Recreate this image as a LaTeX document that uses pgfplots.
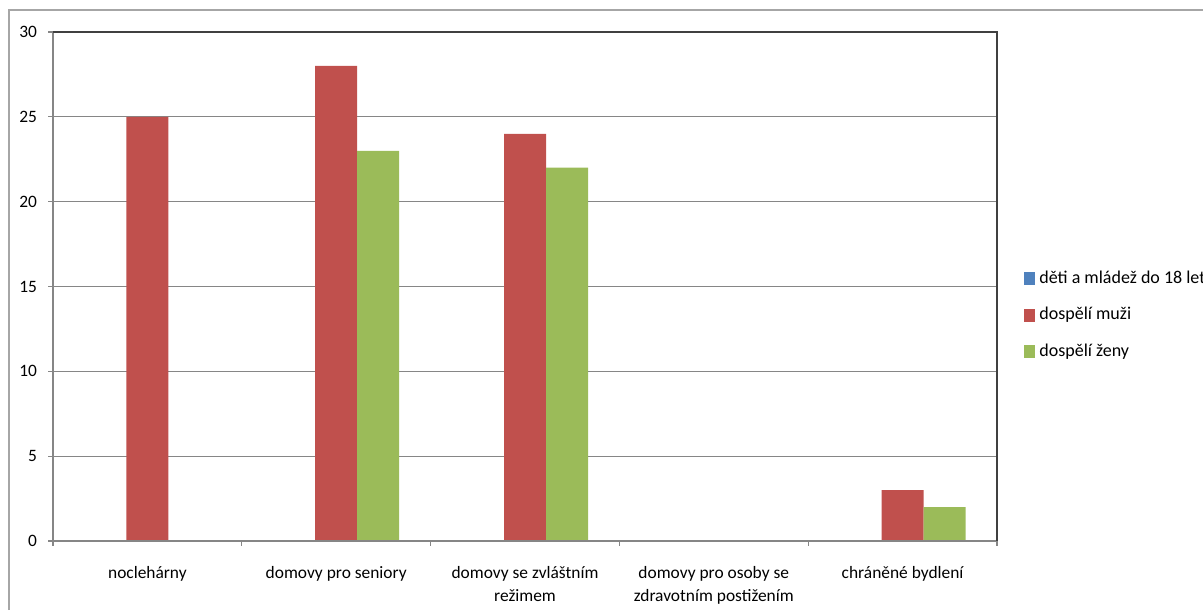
\documentclass[border=0pt]{standalone}
\usepackage{pgfplots}
\pgfplotsset{compat=1.18}
\usepackage{fontspec}
\setmainfont{Carlito}
\definecolor{cblue}{HTML}{4F81BD}
\definecolor{cred}{HTML}{C0504D}
\definecolor{cgreen}{HTML}{9BBB59}
\definecolor{gridgray}{HTML}{868686}
\definecolor{framegray}{HTML}{A6A6A6}
\begin{document}
\begin{tikzpicture}
\useasboundingbox (0pt,0pt) rectangle (601.5pt,305pt);
\draw[framegray, line width=1pt] (4.5pt,0pt) -- (4.5pt,300pt) -- (601.5pt,300pt);
\begin{axis}[
  at={(73.7pt,34.5pt)}, anchor=origin,
  scale only axis, width=472pt, height=254.5pt,
  ybar=0pt, bar width=21pt,
  xmin=-0.5, xmax=4.5, ymin=0, ymax=30,
  ytick={0,5,...,30},
  xtick={-0.5,0.5,...,4.5}, xticklabels={},
  extra x ticks={0,1,2,3,4},
  extra x tick labels={nocleh\'arny,domovy pro seniory,{domovy se zvláštním\\režimem},{domovy pro osoby se\\zdravotním postižením},chráněné bydlení},
  extra x tick style={major tick length=0pt, grid=none},
  xticklabel style={align=center, font=\fontsize{8.7}{11.5}\selectfont, yshift=-9pt},
  yticklabel style={font=\fontsize{8.7}{10}\selectfont, xshift=-2pt},
  /pgf/number format/assume math mode=true,
  ymajorgrids, grid style={gridgray, line width=0.6pt},
  tick align=outside, major tick length=2.5pt,
  tick style={gridgray, line width=0.6pt},
  xtick pos=lower, ytick pos=left,
  axis line style={draw=none},
  legend style={at={(1.0286,0.444)}, anchor=west, draw=none, fill=none,
    font=\fontsize{9}{11}\selectfont, row sep=6.6pt, inner sep=0pt},
  legend cell align=left,
  clip=false,
]
\addplot[fill=cblue, draw=none, legend image code/.code={\fill[cblue] (0pt,-3.25pt) rectangle (5.5pt,3.25pt);}] coordinates {(0,0) (1,0) (2,0) (3,0) (4,0)};
\addplot[fill=cred, draw=none, legend image code/.code={\fill[cred] (0pt,-3.25pt) rectangle (5.5pt,3.25pt);}] coordinates {(0,25) (1,28) (2,24) (3,0) (4,3)};
\addplot[fill=cgreen, draw=none, legend image code/.code={\fill[cgreen] (0pt,-3.25pt) rectangle (5.5pt,3.25pt);}] coordinates {(0,0) (1,23) (2,22) (3,0) (4,2)};
\legend{děti a mládež do 18 let, dospělí muži, dospělí ženy}
\draw[gridgray, line width=0.6pt] (rel axis cs:0,0) -- (rel axis cs:0,1);
\draw[gridgray, line width=0.6pt] (rel axis cs:0,0) -- (rel axis cs:1,0);
\draw[black!75, line width=1pt] (rel axis cs:0,1) -- (rel axis cs:1,1) -- (rel axis cs:1,0);
\end{axis}
\end{tikzpicture}
\end{document}
